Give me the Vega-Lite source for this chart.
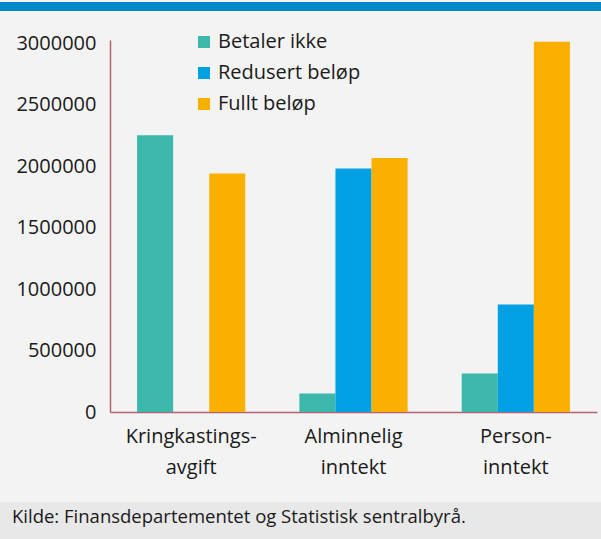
{
  "$schema": "https://vega.github.io/schema/vega-lite/v6.json",
  "background": "#f3f3f3",
  "padding": 0,
  "config": {"font": "Open Sans", "view": {"stroke": null}},
  "resolve": {"legend": {"color": "independent"}, "scale": {"color": "independent"}},
  "concat": [
    {
      "width": 601,
      "height": 9,
      "view": {"fill": "#0089c9", "stroke": null},
      "data": {"values": [{"t": ""}]},
      "mark": {"type": "text"},
      "encoding": {"text": {"field": "t"}}
    },
    {
      "width": 597,
      "height": 372,
      "data": {"values": [
        {"kategori": "Kringkastings- avgift", "gruppe": "Betaler ikke", "antall": 2250000},
        {"kategori": "Kringkastings- avgift", "gruppe": "Fullt beløp", "antall": 1940000},
        {"kategori": "Alminnelig inntekt", "gruppe": "Betaler ikke", "antall": 150000},
        {"kategori": "Alminnelig inntekt", "gruppe": "Redusert beløp", "antall": 1980000},
        {"kategori": "Alminnelig inntekt", "gruppe": "Fullt beløp", "antall": 2065000},
        {"kategori": "Person- inntekt", "gruppe": "Betaler ikke", "antall": 313000},
        {"kategori": "Person- inntekt", "gruppe": "Redusert beløp", "antall": 875000},
        {"kategori": "Person- inntekt", "gruppe": "Fullt beløp", "antall": 3010000}
      ]},
      "mark": {"type": "bar"},
      "encoding": {
        "x": {
          "field": "kategori", "type": "nominal",
          "sort": ["Kringkastings- avgift", "Alminnelig inntekt", "Person- inntekt"],
          "scale": {"range": [110, 597], "paddingInner": 0.3333, "paddingOuter": 0.1667},
          "axis": {"title": null, "labelAngle": 0, "labelExpr": "split(datum.value, ' ')", "labelLineHeight": 31, "labelFontSize": 20, "labelColor": "#1a1a1a", "ticks": false, "labelPadding": 14, "domainColor": "#b5646f", "domainWidth": 1.5, "minExtent": 70, "maxExtent": 70}
        },
        "xOffset": {
          "field": "gruppe", "type": "nominal",
          "scale": {"domain": ["Betaler ikke", "Redusert beløp", "Fullt beløp"], "paddingInner": 0, "paddingOuter": 0}
        },
        "y": {
          "field": "antall", "type": "quantitative",
          "scale": {"domain": [0, 3025000], "nice": false},
          "axis": {"title": null, "offset": -110, "values": [0, 500000, 1000000, 1500000, 2000000, 2500000, 3000000], "format": "d", "labelFontSize": 20, "labelColor": "#1a1a1a", "ticks": false, "grid": false, "labelPadding": 14, "domainColor": "#b5646f", "domainWidth": 1.5, "minExtent": 0, "maxExtent": 0}
        },
        "color": {
          "field": "gruppe", "type": "nominal",
          "scale": {"domain": ["Betaler ikke", "Redusert beløp", "Fullt beløp"], "range": ["#3bb8ab", "#00a0e2", "#fbb000"]},
          "legend": {"title": null, "orient": "none", "legendX": 194, "legendY": -8, "symbolType": "square", "symbolSize": 144, "symbolStrokeWidth": 0, "symbolOpacity": 1, "labelFontSize": 20, "labelColor": "#1a1a1a", "labelOffset": 4, "rowPadding": 11, "padding": 0}
        }
      }
    },
    {
      "width": 601,
      "height": 37,
      "view": {"fill": "#e8e8e8", "stroke": null},
      "data": {"values": [{"t": ""}]},
      "mark": {"type": "text"},
      "encoding": {"text": {"field": "t"}},
      "title": {"text": "Kilde: Finansdepartementet og Statistisk sentralbyrå.", "orient": "bottom", "anchor": "start", "offset": -31, "dx": 12, "fontSize": 18.5, "fontWeight": "normal", "color": "#1a1a1a", "font": "Open Sans"}
    }
  ],
  "columns": 1,
  "align": "none",
  "spacing": 20,
  "bounds": "full"
}
